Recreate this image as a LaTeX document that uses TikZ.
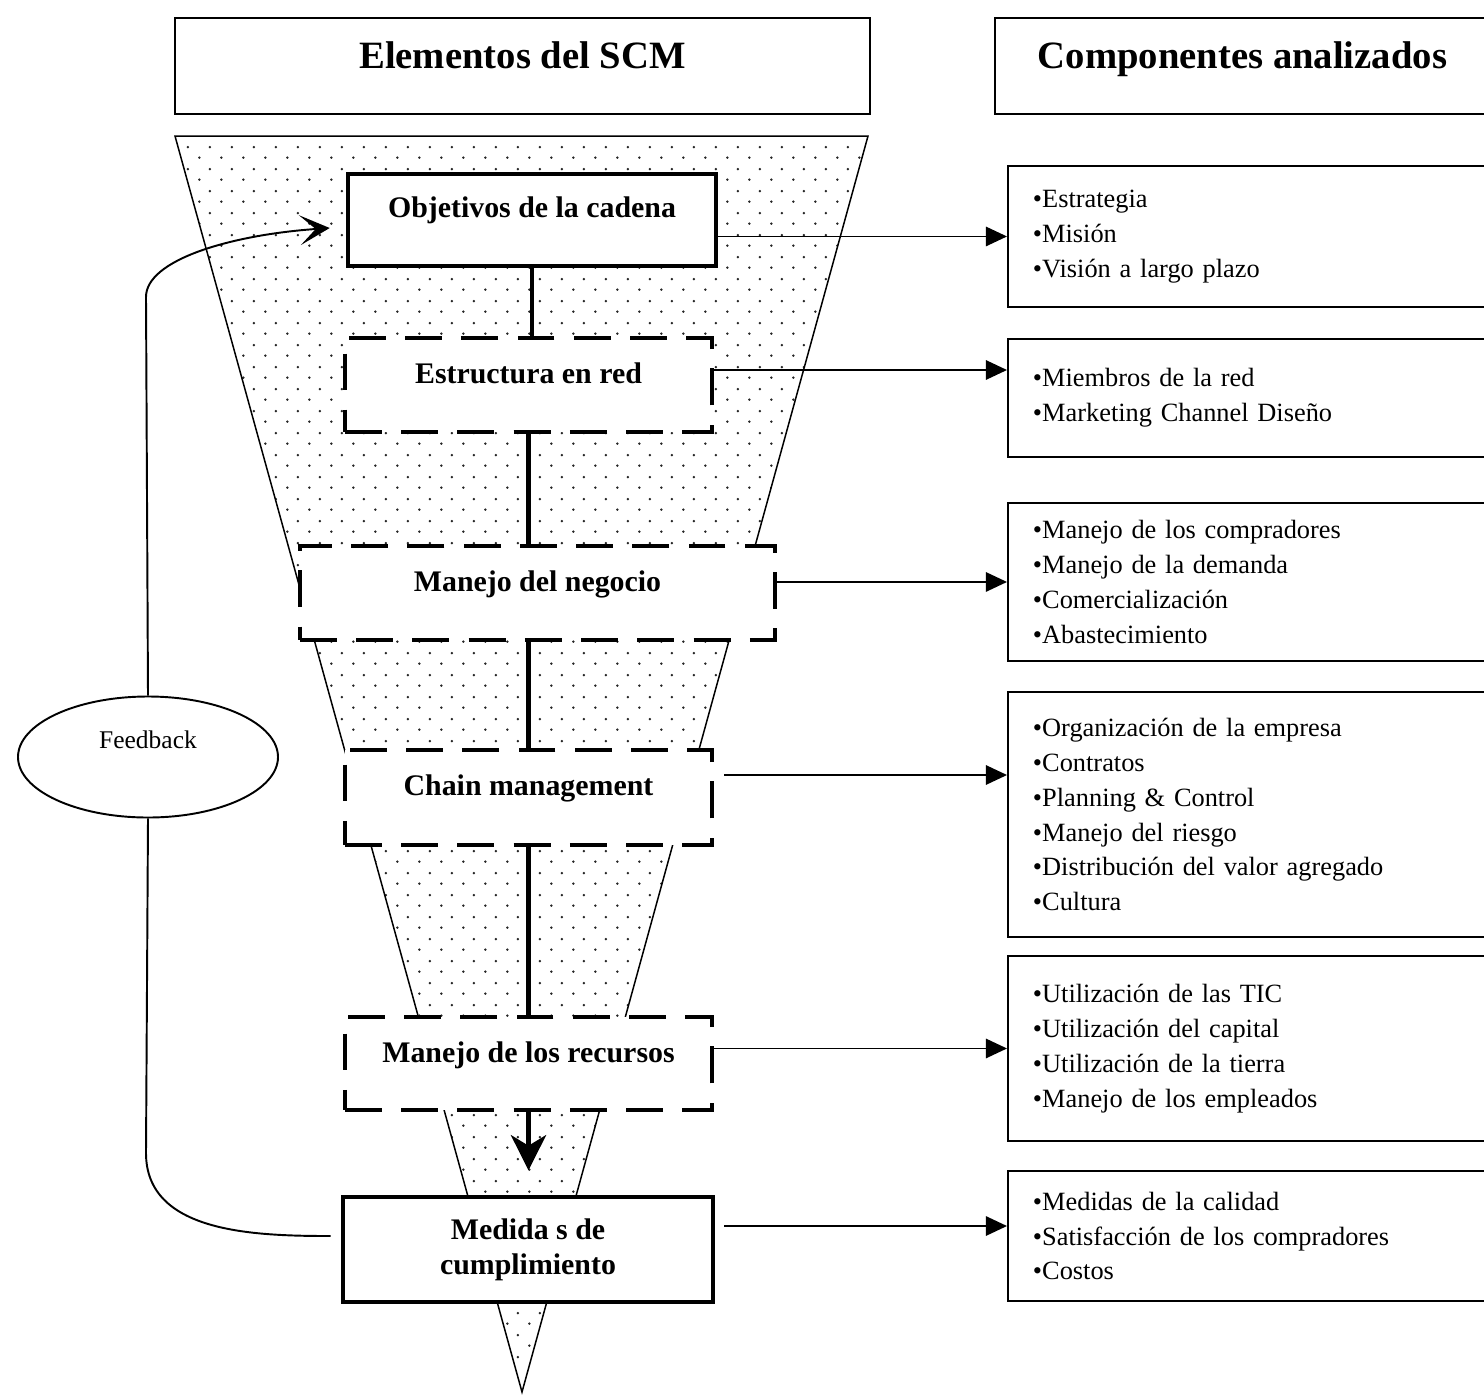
\documentclass[tikz,border=0pt]{standalone}
\usepackage{fontspec}
\setmainfont{Liberation Serif}
\usetikzlibrary{arrows.meta,patterns.meta,shapes.geometric,positioning}
\tikzdeclarepattern{
name=SCMDOTS,
type=uncolored,
bottom left={(0pt,0pt)},
top right={(12.3pt,12.3pt)},
tile size={(12.3pt,12.3pt)},
code={
\pgfpathcircle{\pgfpoint{3.1pt}{3.1pt}}{0.75pt}
\pgfpathcircle{\pgfpoint{9.2pt}{9.2pt}}{0.75pt}
\pgfusepath{fill}
}
}
\tikzset{
TITLE/.style ={draw=black,line width=1.1pt,inner sep=0pt,font=\fontsize{22}{26}\selectfont\bfseries,text height=1cm,text depth=0.92cm},
STAGE/.style ={draw=black,fill=white,line width=2.6pt,inner sep=0pt,font=\fontsize{17}{19.9}\selectfont\bfseries,text height=0.9cm,text depth=0.98cm},
DASHSTAGE/.style={STAGE,dash pattern=on 21pt off 11pt},
LIST/.style ={draw=black,line width=1.1pt,anchor=north west,inner xsep=0.5cm,inner ysep=0pt,text width=8.66cm,minimum width=9.66cm,align=left,font=\fontsize{15}{19.9}\selectfont},
FUNNEL/.style={draw=black,line width=0.85pt,pattern=SCMDOTS,pattern color=black!85},
LINK/.style ={draw=black,line width=2.8pt},
TOLIST/.style ={draw=black,line width=1.1pt,-{Triangle[length=12pt,width=11pt]}},
FEED/.style ={draw=black,line width=1.1pt},
}
\begin{document}
\begin{tikzpicture} %elementos del SCM
	\useasboundingbox (0,0) rectangle (29.68,-27.88);
	\path[FUNNEL] (3.5,-2.72) -- (17.36,-2.72) -- (10.44,-27.84) -- cycle;
	\node[TITLE,minimum width=13.9cm] (elem) at (10.45,-1.32) {Elementos del SCM};
	\node[TITLE,minimum width=9.9cm] (comp) at (24.85,-1.32) {Componentes analizados};
	% etapas
	\node[STAGE,minimum width=7.36cm,text height=0.86cm] (obj) at (10.64,-4.4) {Objetivos de la cadena};
	\node[DASHSTAGE,minimum width=7.34cm] (red) at (10.57,-7.7) {Estructura en red};
	\node[DASHSTAGE,minimum width=9.5cm] (neg) at (10.75,-11.86) {Manejo del negocio};
	\node[DASHSTAGE,minimum width=7.34cm,text depth=1cm] (chain) at (10.57,-15.95) {Chain management};
	\node[DASHSTAGE,minimum width=7.34cm,text depth=0.96cm] (rec) at (10.57,-21.27) {Manejo de los recursos};
	\node[STAGE,minimum width=7.4cm,minimum height=2.1cm,text height=,text depth=,align=center] (med) at (10.56,-24.99) {Medida s de\\cumplimiento};
	\path[LINK] (obj.south) -- (obj.south |- red.north);
	\path[LINK] (red.south) -- (red.south |- neg.north);
	\path[LINK] (chain.north |- neg.south) -- (chain.north);
	\path[LINK] (chain.south) -- (rec.north);
	\coordinate[below=1.16cm of rec.south] (medtop);
	\path[LINK,-{Stealth[length=20pt,width=20pt,inset=6pt]}] (rec.south) -- (medtop);
	% feedback
	\node[ellipse,draw=black,line width=1.1pt,minimum width=5.2cm,minimum height=2.42cm,inner sep=0pt,text height=0.3cm,text depth=0.66cm,font=\fontsize{14.5}{17}\selectfont] (fb) at (2.96,-15.14) {Feedback};
	\coordinate (fbtop) at (2.92,-5.94);
	\coordinate (fbbot) at (2.92,-23.06);
	\path[FEED,-{Stealth[length=17pt,width=17pt,inset=9pt]}] (fb.north) -- (fbtop) .. controls (2.92,-5.2) and (4.6,-4.7) .. ([xshift=-0.32cm,yshift=-0.16cm]obj.west);
	\path[FEED] ([xshift=-0.2cm,yshift=0.27cm]med.west) to[out=180,in=-90] (fbbot) -- (fb.south);
	% componentes
	\node[LIST,minimum height=2.82cm] (estr) at (20.14,-3.3) {\textbullet Estrategia\\\textbullet Misión\\\textbullet Visión a largo plazo};
	\node[LIST,minimum height=2.36cm] (memb) at (20.14,-6.76) {\textbullet Miembros de la red\\\textbullet Marketing Channel Diseño};
	\node[LIST,minimum height=3.16cm] (mane) at (20.14,-10.04) {\textbullet Manejo de los compradores\\\textbullet Manejo de la demanda\\\textbullet Comercialización\\\textbullet Abastecimiento};
	\node[LIST,minimum height=4.9cm] (org) at (20.14,-13.82) {\textbullet Organización de la empresa\\\textbullet Contratos\\\textbullet Planning \& Control\\\textbullet Manejo del riesgo\\\textbullet Distribución del valor agregado\\\textbullet Cultura};
	\node[LIST,minimum height=3.7cm] (util) at (20.14,-19.1) {\textbullet Utilización de las TIC\\\textbullet Utilización del capital\\\textbullet Utilización de la tierra\\\textbullet Manejo de los empleados};
	\node[LIST,minimum height=2.6cm] (cal) at (20.14,-23.4) {\textbullet Medidas de la calidad\\\textbullet Satisfacción de los compradores\\\textbullet Costos};
	\path[TOLIST] (obj.east |- estr.west) -- (estr.west);
	\path[TOLIST] ([yshift=0.3cm]red.east) -- ([yshift=0.3cm]red.east -| memb.west);
	\path[TOLIST] (neg.east |- mane.west) -- (mane.west);
	\path[TOLIST] ([xshift=0.2cm,yshift=0.45cm]chain.east) -- ([yshift=0.45cm]chain.east -| org.west);
	\path[TOLIST] (rec.east |- util.west) -- (util.west);
	\path[TOLIST] ([xshift=0.18cm,yshift=0.47cm]med.east) -- ([yshift=0.47cm]med.east -| cal.west);
\end{tikzpicture}
\end{document}
